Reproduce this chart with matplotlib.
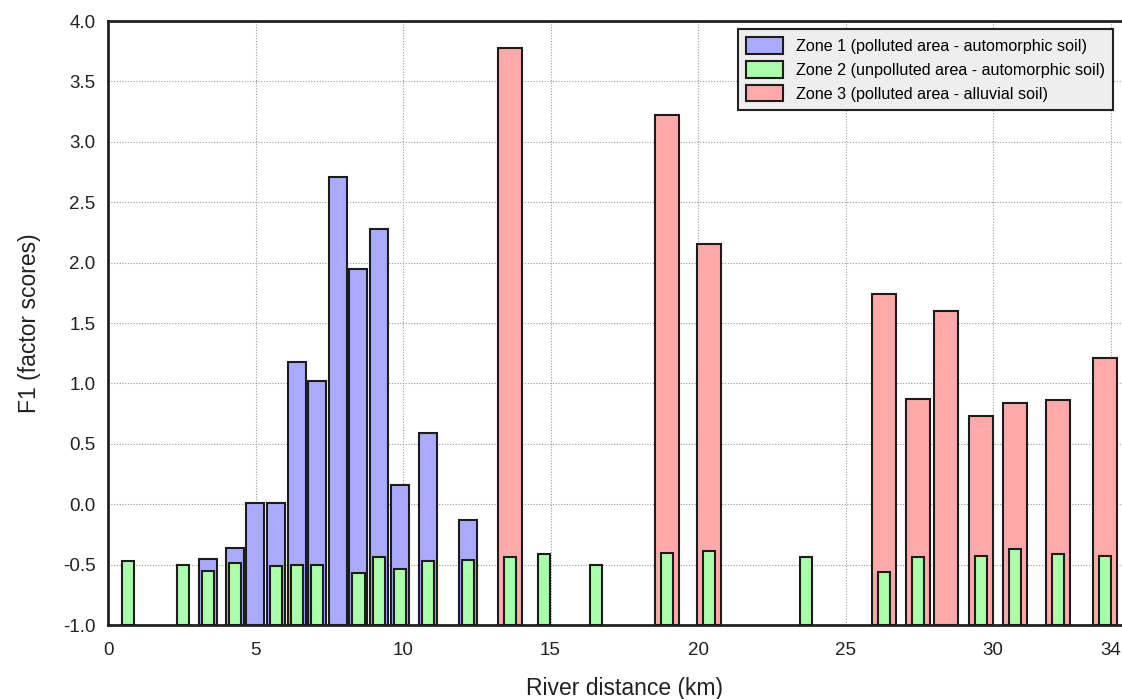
import numpy as np
import matplotlib
matplotlib.use("Agg")
import matplotlib.pyplot as plt

# Zone 1 (polluted area - automorphic soil)
zone1_km = [3.40, 4.29, 4.99, 5.70, 6.40, 7.10, 7.80, 8.49, 9.20, 9.90, 10.86, 12.20]
zone1_f1 = [-0.45, -0.36, 0.01, 0.01, 1.18, 1.02, 2.71, 1.95, 2.28, 0.16, 0.59, -0.13]

# Zone 3 (polluted area - alluvial soil)
zone3_km = [13.62, 18.95, 20.36, 26.31, 27.47, 28.40, 29.58, 30.74, 32.19, 33.81]
zone3_f1 = [3.78, 3.22, 2.15, 1.74, 0.87, 1.60, 0.73, 0.84, 0.86, 1.21]

# Zone 2 (unpolluted area - automorphic soil)
zone2_km = [0.69, 2.55, 3.40, 4.29, 5.70, 6.40, 7.10, 8.49, 9.20, 9.90, 10.86, 12.20,
            13.62, 14.78, 16.54, 18.95, 20.36, 23.67, 26.31, 27.47, 29.58, 30.74,
            32.19, 33.81]
zone2_f1 = [-0.47, -0.505, -0.55, -0.49, -0.51, -0.50, -0.505, -0.57, -0.44, -0.54,
            -0.47, -0.46, -0.435, -0.41, -0.50, -0.40, -0.39, -0.434, -0.56, -0.434,
            -0.425, -0.37, -0.41, -0.425]

labels = ["Zone 1 (polluted area - automorphic soil)",
          "Zone 2 (unpolluted area - automorphic soil)",
          "Zone 3 (polluted area - alluvial soil)"]
x_ticks = [0, 5, 10, 15, 20, 25, 30, 34]
y_ticks = [-1.0, -0.5, 0.0, 0.5, 1.0, 1.5, 2.0, 2.5, 3.0, 3.5, 4.0]

plt.rcParams["font.family"] = ["Liberation Sans", "DejaVu Sans"]

W, H = 1122, 699
fig = plt.figure(figsize=(W / 100, H / 100), dpi=100)
# axes runs past the right edge of the picture (it is cropped there)
left, right_px, top, bottom = 108, 108 + 35 * 29.5, 21, 625
ax = fig.add_axes([left / W, 1 - bottom / H, (right_px - left) / W, (bottom - top) / H])

base = -1.0
edge = "#1c1c1c"
ax.bar(zone1_km, np.array(zone1_f1) - base, bottom=base, width=0.61,
       color="#aaaaff", edgecolor=edge, linewidth=1.5, zorder=2, label=labels[0])
ax.bar(zone3_km, np.array(zone3_f1) - base, bottom=base, width=0.82,
       color="#ffaaaa", edgecolor=edge, linewidth=1.5, zorder=2, label=labels[2])
ax.bar(zone2_km, np.array(zone2_f1) - base, bottom=base, width=0.41,
       color="#aaffaa", edgecolor=edge, linewidth=1.5, zorder=3, label=labels[1])

ax.set_xlim(0, 35)
ax.set_ylim(-1.0, 4.0)
ax.set_xticks(x_ticks)
ax.set_yticks(y_ticks)
ax.set_yticklabels([f"{v:.1f}" for v in y_ticks])
ax.tick_params(length=0, labelsize=13.5, colors="#222222")
ax.tick_params(axis="x", pad=12)
ax.tick_params(axis="y", pad=9)

ax.grid(True, linestyle=(0, (1, 1.5)), color="#999999", linewidth=0.8, zorder=0)
ax.set_axisbelow(True)
for s in ax.spines.values():
    s.set_linewidth(2)
    s.set_color("#222222")

ax.set_xlabel("River distance (km)", fontsize=16.5, color="#222222", labelpad=13)
ax.set_ylabel("F1 (factor scores)", fontsize=16.5, color="#222222", labelpad=16)

h, l = ax.get_legend_handles_labels()
order = [l.index(t) for t in labels]
leg = ax.legend([h[i] for i in order], [l[i] for i in order],
                loc="upper right", bbox_to_anchor=(1113 / W, 1 - 29 / H),
                bbox_transform=fig.transFigure, borderaxespad=0,
                fontsize=11.6, fancybox=False, framealpha=1,
                handlelength=2.3, handleheight=1.2, handletextpad=0.8,
                labelspacing=0.45, borderpad=0.5)
leg.get_frame().set_facecolor("#eeeeee")
leg.get_frame().set_edgecolor("#222222")
leg.get_frame().set_linewidth(1.5)

fig.savefig("out.png", dpi=100)
